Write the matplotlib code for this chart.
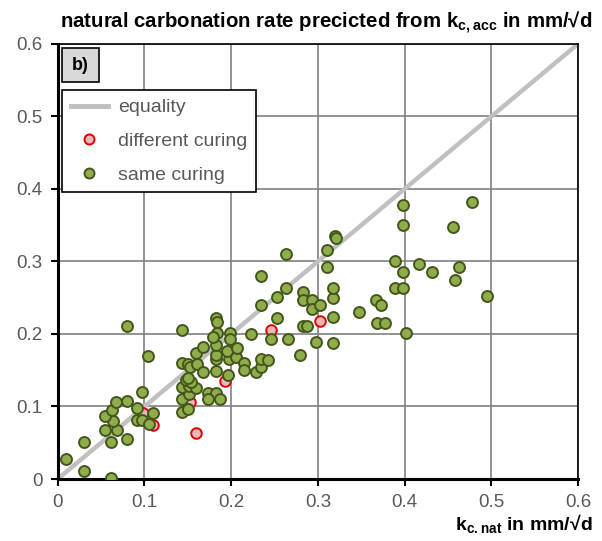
import numpy as np
import matplotlib.pyplot as plt
from matplotlib.patches import Rectangle
from matplotlib.lines import Line2D

plt.rcParams['font.family'] = ['Liberation Sans', 'DejaVu Sans']

# same curing (green)
same_x = [0.009, 0.030, 0.062, 0.030, 0.062, 0.080, 0.055, 0.068, 0.064, 0.055,
          0.063, 0.067, 0.080, 0.097, 0.091, 0.110, 0.092, 0.097, 0.105, 0.080,
          0.104, 0.143, 0.150, 0.143, 0.151, 0.143, 0.151, 0.160, 0.148, 0.154,
          0.150, 0.143, 0.150, 0.153, 0.161, 0.160, 0.168, 0.168, 0.143, 0.173,
          0.183, 0.173, 0.187, 0.182, 0.196, 0.182, 0.182, 0.198, 0.206, 0.182,
          0.195, 0.207, 0.184, 0.179, 0.182, 0.184, 0.199, 0.199, 0.215, 0.215,
          0.223, 0.229, 0.235, 0.235, 0.243, 0.234, 0.234, 0.246, 0.253, 0.253,
          0.263, 0.263, 0.266, 0.279, 0.283, 0.288, 0.283, 0.283, 0.293, 0.293,
          0.303, 0.298, 0.318, 0.318, 0.318, 0.318, 0.311, 0.311, 0.320, 0.321,
          0.347, 0.367, 0.373, 0.368, 0.378, 0.389, 0.398, 0.389, 0.398, 0.402,
          0.398, 0.398, 0.417, 0.432, 0.456, 0.458, 0.463, 0.478, 0.495]
same_y = [0.027, 0.011, 0.002, 0.051, 0.051, 0.055, 0.068, 0.068, 0.080, 0.087,
          0.095, 0.106, 0.108, 0.120, 0.098, 0.091, 0.082, 0.082, 0.076, 0.211,
          0.169, 0.093, 0.097, 0.110, 0.117, 0.127, 0.128, 0.126, 0.137, 0.134,
          0.139, 0.160, 0.158, 0.155, 0.159, 0.174, 0.182, 0.148, 0.206, 0.118,
          0.119, 0.110, 0.110, 0.149, 0.144, 0.165, 0.171, 0.166, 0.168, 0.185,
          0.176, 0.180, 0.201, 0.196, 0.222, 0.216, 0.202, 0.193, 0.160, 0.151,
          0.200, 0.147, 0.155, 0.166, 0.164, 0.240, 0.280, 0.193, 0.222, 0.251,
          0.263, 0.311, 0.193, 0.171, 0.211, 0.211, 0.258, 0.247, 0.247, 0.234,
          0.240, 0.189, 0.187, 0.224, 0.249, 0.263, 0.293, 0.316, 0.335, 0.332,
          0.231, 0.247, 0.240, 0.215, 0.215, 0.263, 0.263, 0.300, 0.285, 0.202,
          0.351, 0.378, 0.296, 0.285, 0.347, 0.274, 0.293, 0.382, 0.253]

# different curing (red)
diff_x = [0.098, 0.110, 0.152, 0.160, 0.193, 0.246, 0.303]
diff_y = [0.091, 0.074, 0.106, 0.064, 0.135, 0.205, 0.218]

ticks = [0, 0.1, 0.2, 0.3, 0.4, 0.5, 0.6]
tick_labels = ['0', '0.1', '0.2', '0.3', '0.4', '0.5', '0.6']

fig = plt.figure(figsize=(6.02, 5.41), dpi=100)
ax = fig.add_axes([0.0959, 0.1146, 0.8641, 0.8041])

ax.plot([0, 0.6], [0, 0.6], color='#c0c0c0', lw=3.2, zorder=2, solid_capstyle='round')
ax.scatter(diff_x, diff_y, s=58, facecolor='#e8b8bc', edgecolor='#e00000', linewidths=1.4, zorder=3)
ax.scatter(same_x, same_y, s=62, facecolor='#8fad4a', edgecolor='#44561c', linewidths=1.4, zorder=4)

ax.set_xlim(0, 0.6)
ax.set_ylim(0, 0.6)
ax.set_xticks(ticks)
ax.set_xticklabels(tick_labels)
ax.set_yticks(ticks)
ax.set_yticklabels(tick_labels)
ax.grid(True, color='#808080', lw=1.2, zorder=1)
ax.set_axisbelow(True)
ax.tick_params(direction='out', length=5, width=1.5, colors='black',
               labelcolor='#595959', labelsize=13.5, pad=6)
for side in ['left', 'bottom']:
    ax.spines[side].set_linewidth(2.2)
for side in ['top', 'right']:
    ax.spines[side].set_linewidth(1.2)

# b) label box
ax.add_patch(Rectangle((0.008, 0.913), 0.072, 0.077, transform=ax.transAxes,
                       facecolor='#d9d9d9', edgecolor='black', lw=1.2, zorder=6))
ax.text(0.044, 0.9515, 'b)', transform=ax.transAxes, fontsize=13, fontweight='bold',
        va='center', ha='center', zorder=7)

handles = [Line2D([], [], color='#c0c0c0', lw=3.5),
           Line2D([], [], ls='', marker='o', ms=7.2, mfc='#e8b8bc', mec='#e00000', mew=1.4),
           Line2D([], [], ls='', marker='o', ms=7.2, mfc='#8fad4a', mec='#44561c', mew=1.4)]
leg = ax.legend(handles, ['equality', 'different curing', 'same curing'],
                loc='upper left', bbox_to_anchor=(0.008, 0.894), fontsize=14,
                fancybox=False, framealpha=1, edgecolor='black', labelcolor='#595959',
                borderpad=0.45, labelspacing=0.82, handlelength=1.9, handletextpad=0.55,
                borderaxespad=0)
leg.get_frame().set_linewidth(1.2)
leg.set_zorder(7)

fig.text(0.542, 0.957, r'natural carbonation rate precicted from k$_{\mathregular{c,acc}}$ in mm/√d',
         ha='center', va='center', fontsize=14.7, fontweight='bold')
fig.text(0.984, 0.03, r'k$_{\mathregular{c.nat}}$ in mm/√d',
         ha='right', va='center', fontsize=14, fontweight='bold')

fig.savefig('out.png', dpi=100)
